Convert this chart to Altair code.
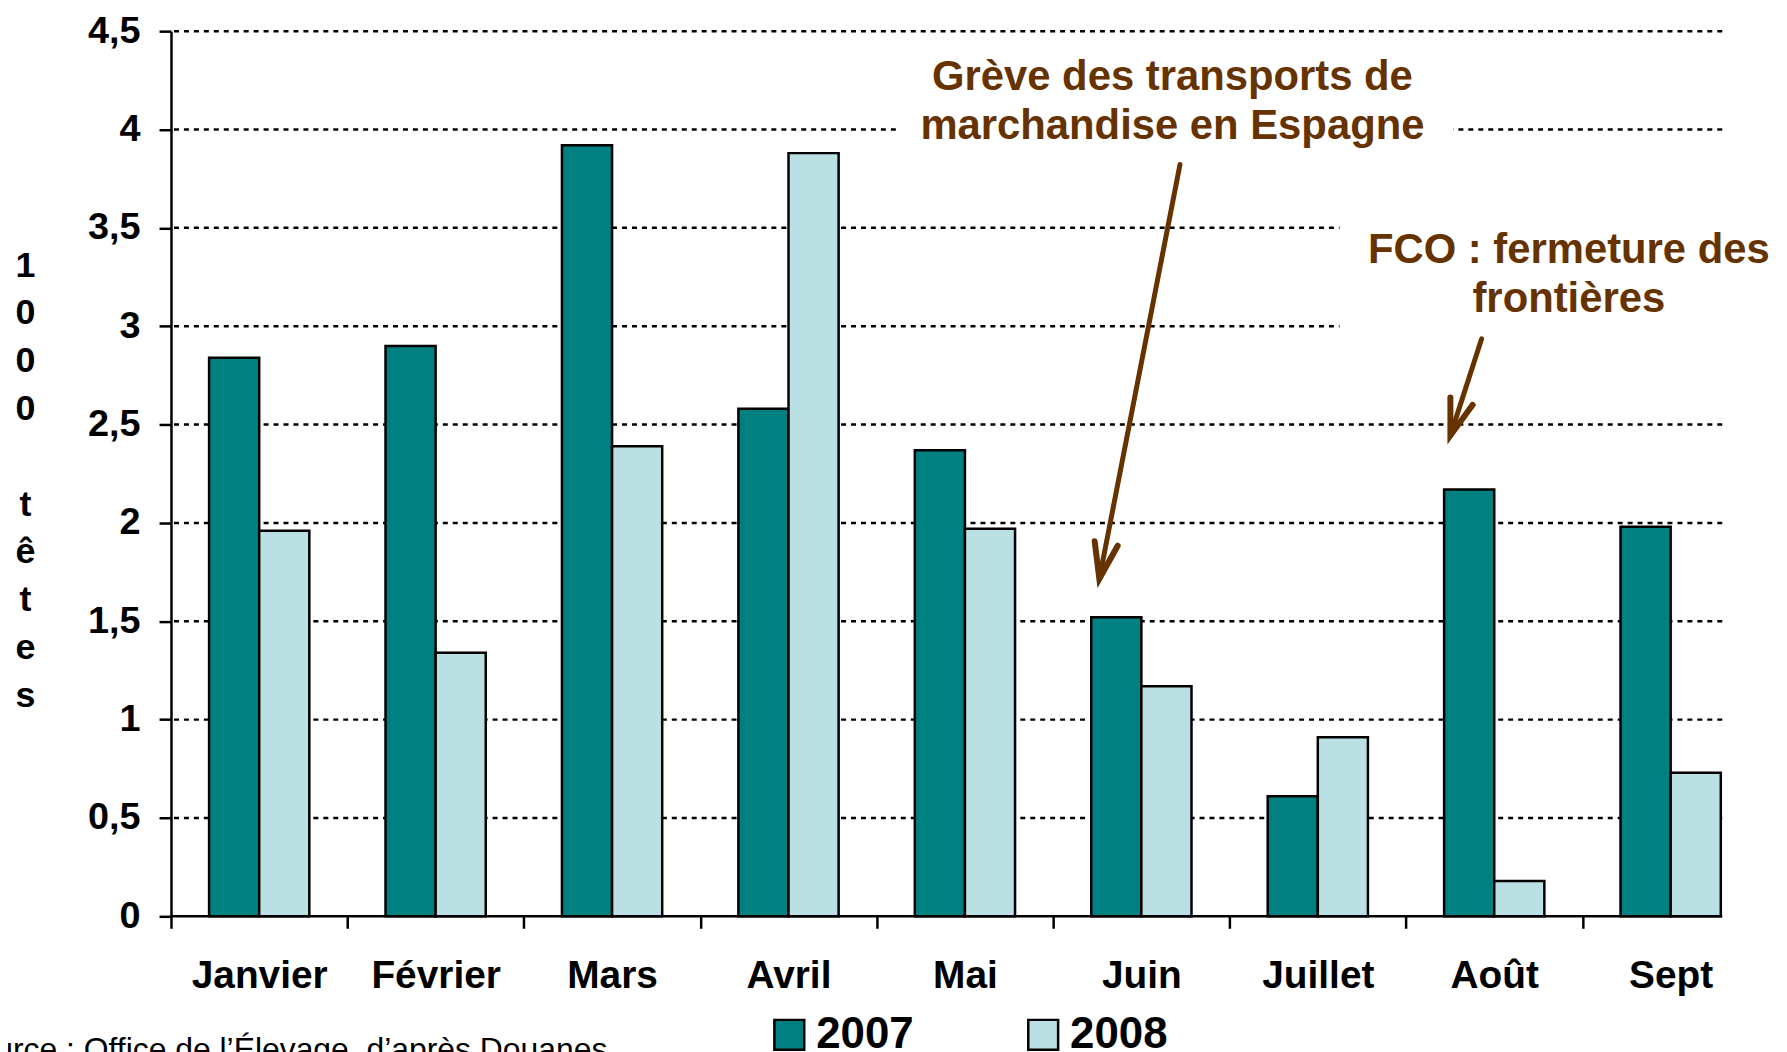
import altair as alt
import pandas as pd

# ---- data ----
months = ["Janvier", "Février", "Mars", "Avril", "Mai", "Juin", "Juillet", "Août", "Sept"]
years = ["2007", "2008"]
v2007 = [2.84, 2.90, 3.92, 2.58, 2.37, 1.52, 0.61, 2.17, 1.98]
v2008 = [1.96, 1.34, 2.39, 3.88, 1.97, 1.17, 0.91, 0.18, 0.73]
y_ticks = [0, 0.5, 1, 1.5, 2, 2.5, 3, 3.5, 4, 4.5]
y_title = ["1", "0", "0", "0", "\u200b", "t", "ê", "t", "e", "s"]
source = ["Source : Office de l’Élevage, d’après Douanes"]

# annotations (x in plot units 0..9 across the plot width, y in data units)
note_text = ["Grève des transports de\nmarchandise en Espagne", "FCO : fermeture des\nfrontières"]
note_x = [5.81, 8.11]
note_y = [4.20, 3.32]
arrow_x = [5.854, 7.604]
arrow_y = [3.822, 2.936]
arrow_x2 = [5.386, 7.423]
arrow_y2 = [1.716, 2.445]
arrow_angle = [11, 18]
mask_x = [4.21, 6.78]
mask_x2 = [7.44, 9.1]
mask_y = [4.38, 3.72]
mask_y2 = [3.72, 2.75]
source_x = [-1.246]
source_y = [-0.729]

TEAL = "#008080"
LIGHT = "#BBE0E3"
BROWN = "#663300"
FONT = "Liberation Sans"
STEP = 177.2  # category width in px (last category is cut by the plot edge)

rows = []
for m, a, b in zip(months, v2007, v2008):
    rows.append({"mois": m, "annee": "2007", "valeur": a})
    rows.append({"mois": m, "annee": "2008", "valeur": b})
df = pd.DataFrame(rows)

notes = pd.DataFrame({"t": note_text, "x": note_x, "valeur": note_y})
arrows = pd.DataFrame({"x": arrow_x, "valeur": arrow_y, "x2": arrow_x2, "valeur2": arrow_y2,
                       "angle": arrow_angle})
masks = pd.DataFrame({"x": mask_x, "x2": mask_x2, "valeur": mask_y, "valeur2": mask_y2})
src = pd.DataFrame({"t": source, "x": source_x, "valeur": source_y})
base = pd.DataFrame({"valeur": [0]})
grid = pd.DataFrame({"valeur": [v for v in y_ticks if v > 0]})

yscale = alt.Scale(domain=[0, 4.5], nice=False)
ascale = alt.Scale(domain=[0, 9], nice=False, zero=False)

grid_layer = alt.Chart(grid).mark_rule(color="black", strokeWidth=2.5, strokeDash=[5, 5]).encode(
    y=alt.Y("valeur:Q", scale=yscale),
)

bars = alt.Chart(df).mark_bar(stroke="black", strokeWidth=2.5).encode(
    x=alt.X("mois:N", sort=months,
            scale=alt.Scale(paddingInner=0, paddingOuter=0, range=[0, STEP * 9]),
            axis=alt.Axis(title=None, labelAngle=0, labelFont=FONT, labelFontWeight="bold",
                          labelFontSize=39, labelColor="black", labelPadding=28,
                          tickOffset=-STEP / 2, labelOffset=STEP / 2,
                          tickSize=12, tickColor="black", tickWidth=2.5,
                          domain=False, grid=False)),
    xOffset=alt.XOffset("annee:N", sort=years,
                        scale=alt.Scale(paddingInner=0, paddingOuter=0.76)),
    y=alt.Y("valeur:Q", scale=yscale,
            axis=alt.Axis(values=y_ticks,
                          labelExpr="replace(format(datum.value, '~g'), '.', ',')",
                          labelFont=FONT, labelFontWeight="bold", labelFontSize=38,
                          labelColor="black", labelPadding=19,
                          tickSize=12, tickColor="black", tickWidth=2.5,
                          domainColor="black", domainWidth=2.5, grid=False,
                          title=y_title, titleAngle=0, titleX=-146.7, titleY=235,
                          titleFont=FONT, titleFontWeight="bold", titleFontSize=36,
                          titleColor="black", titleLineHeight=48,
                          titleAlign="center", titleBaseline="middle")),
    color=alt.Color("annee:N", scale=alt.Scale(domain=years, range=[TEAL, LIGHT]),
                    legend=alt.Legend(title=None, orient="none", legendX=599, legendY=986,
                                      direction="horizontal", symbolType="square",
                                      symbolSize=900, symbolStrokeColor="black",
                                      symbolStrokeWidth=2.5, labelFont=FONT,
                                      labelFontWeight="bold", labelFontSize=44,
                                      labelColor="black", labelOffset=5,
                                      columnPadding=108, padding=0)),
)

baseline = alt.Chart(base).mark_rule(color="black", strokeWidth=2.5).encode(
    y=alt.Y("valeur:Q", scale=yscale),
)

mask_layer = alt.Chart(masks).mark_rect(color="white").encode(
    x=alt.X("x:Q", scale=ascale, axis=None),
    x2="x2:Q",
    y=alt.Y("valeur:Q", scale=yscale),
    y2="valeur2:Q",
)

text_layer = alt.Chart(notes).mark_text(
    font=FONT, fontWeight="bold", fontSize=42, color=BROWN,
    align="center", baseline="alphabetic", lineBreak="\n", lineHeight=49,
).encode(
    x=alt.X("x:Q", scale=ascale, axis=None),
    y=alt.Y("valeur:Q", scale=yscale),
    text="t:N",
)

rule_layer = alt.Chart(arrows).mark_rule(color=BROWN, strokeWidth=5, strokeCap="round").encode(
    x=alt.X("x:Q", scale=ascale, axis=None),
    y=alt.Y("valeur:Q", scale=yscale),
    x2="x2:Q",
    y2="valeur2:Q",
)

head_layer = alt.Chart(arrows).mark_point(
    shape="M -0.31 -0.95 L 0 0 L 0.31 -0.95", filled=False, size=5776,
    strokeWidth=6, color=BROWN, opacity=1, strokeCap="round",
).encode(
    x=alt.X("x2:Q", scale=ascale, axis=None),
    y=alt.Y("valeur2:Q", scale=yscale),
    angle=alt.Angle("angle:Q", scale=None),
)

source_layer = alt.Chart(src).mark_text(
    font=FONT, fontSize=32, color="black", align="left", baseline="alphabetic",
).encode(
    x=alt.X("x:Q", scale=ascale, axis=None),
    y=alt.Y("valeur:Q", scale=yscale),
    text="t:N",
)

chart = alt.layer(grid_layer, bars, baseline, mask_layer, text_layer, rule_layer, head_layer,
                  source_layer).resolve_scale(
    x="independent"
).properties(
    width=1558, height=889,
    background="white",
    autosize=alt.AutoSizeParams(type="none"),
    padding={"left": 163.7, "top": 21, "right": 57, "bottom": 134},
).configure_view(stroke=None)

chart.save("out.html", embed_options={"renderer": "svg", "actions": False})
